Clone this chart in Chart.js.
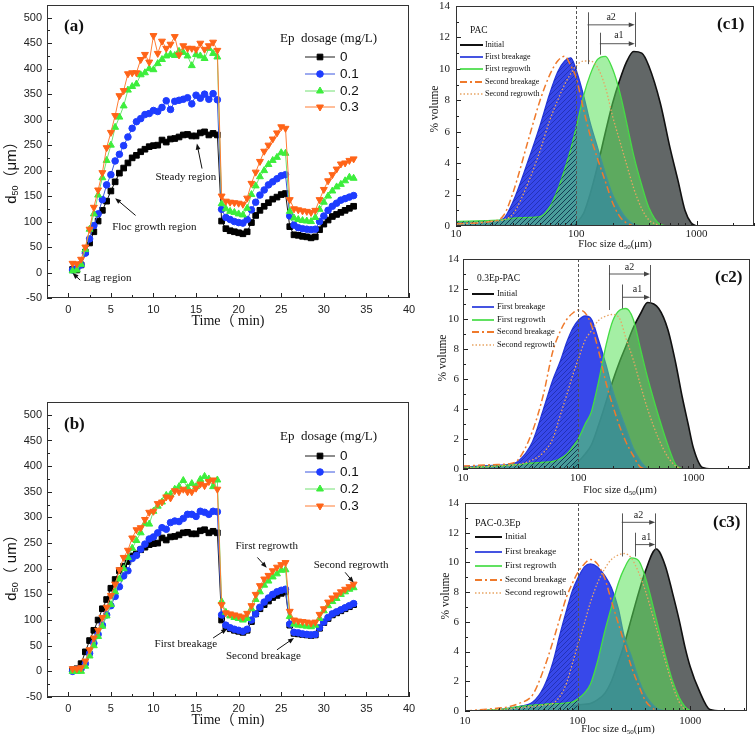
<!DOCTYPE html>
<html>
<head>
<meta charset="utf-8">
<script src="https://cdn.jsdelivr.net/npm/chart.js@4.4.1/dist/chart.umd.min.js"></script>
<style>
  body { margin: 0; background: #fff; width: 756px; height: 739px; overflow: hidden; position: relative; }
  canvas { position: absolute; }
</style>
</head>
<body>
<canvas id="chartA" width="420" height="335" style="left:0px;top:0px"></canvas>
<canvas id="chartB" width="420" height="399" style="left:0px;top:340px"></canvas>
<canvas id="chartC1" width="336" height="252" style="left:420px;top:0px"></canvas>
<canvas id="chartC2" width="336" height="246" style="left:420px;top:252px"></canvas>
<canvas id="chartC3" width="336" height="241" style="left:420px;top:498px"></canvas>
<script>
// ---- data: floc size d50 vs time (panels a, b) ----
const times = [0.5, 1, 1.5, 2, 2.5, 3, 3.5, 4, 4.5, 5, 5.5, 6, 6.5, 7, 7.5, 8, 8.5, 9, 9.5, 10,
  10.5, 11, 11.5, 12, 12.5, 13, 13.5, 14, 14.5, 15, 15.5, 16, 16.5, 17, 17.5,
  18, 18.5, 19, 19.5, 20, 20.5, 21, 21.5, 22, 22.5, 23, 23.5, 24, 24.5, 25, 25.5,
  26, 26.5, 27, 27.5, 28, 28.5, 29, 29.5, 30, 30.5, 31, 31.5, 32, 32.5, 33, 33.5];
const doseLabels = ['0', '0.1', '0.2', '0.3'];
const timeTicks = [0, 5, 10, 15, 20, 25, 30, 35, 40];
const d50Ticks = [-50, 0, 50, 100, 150, 200, 250, 300, 350, 400, 450, 500];

const aDose0 = [6, 5, 15, 40, 58, 80, 101, 122, 140, 160, 178, 195, 205, 215, 225, 230, 237, 242, 247, 249,
  250, 260, 256, 262, 263, 266, 270, 271, 268, 268, 274, 276, 270, 273, 270,
  101, 86, 82, 80, 78, 76, 80, 98, 112, 122, 130, 137, 144, 148, 153, 155,
  90, 74, 73, 71, 70, 68, 70, 84, 95, 103, 110, 114, 118, 122, 126, 130];
const aDose01 = [5, 8, 15, 38, 66, 92, 115, 143, 172, 192, 219, 232, 249, 266, 283, 296, 302, 310, 312, 318,
  316, 324, 337, 320, 336, 338, 340, 343, 331, 348, 342, 350, 340, 351, 339,
  124, 108, 104, 100, 98, 97, 104, 123, 138, 152, 162, 172, 178, 184, 190, 192,
  111, 93, 88, 86, 85, 84, 85, 100, 111, 122, 130, 136, 142, 145, 148, 151];
const aDose02 = [3, 5, 16, 45, 85, 115, 152, 186, 220, 250, 285, 305, 327, 358, 365, 370, 388, 392, 400, 398,
  410, 418, 425, 428, 426, 434, 432, 425, 406, 428, 425, 420, 440, 430, 423,
  135, 125, 120, 118, 115, 113, 126, 153, 170, 188, 200, 212, 220, 226, 235, 234,
  120, 107, 104, 102, 101, 100, 108, 124, 138, 150, 160, 168, 173, 180, 187, 185];
const aDose03 = [18, 17, 26, 50, 85, 128, 162, 196, 245, 275, 308, 347, 357, 390, 392, 392, 418, 428, 413, 465,
  430, 454, 440, 448, 463, 427, 445, 440, 440, 438, 450, 438, 445, 452, 436,
  150, 140, 138, 137, 136, 134, 146, 175, 197, 218, 238, 250, 262, 274, 286, 283,
  143, 125, 123, 121, 120, 118, 122, 143, 163, 180, 192, 203, 213, 215, 220, 223];

const bDose0 = [3, 5, 15, 38, 60, 80, 100, 122, 140, 162, 179, 196, 205, 214, 225, 229, 237, 242, 247, 249,
  250, 260, 256, 262, 263, 266, 270, 271, 268, 268, 274, 276, 270, 273, 270,
  100, 87, 83, 80, 78, 76, 80, 97, 112, 122, 130, 137, 144, 148, 152, 155,
  90, 74, 73, 72, 71, 70, 71, 84, 95, 103, 110, 114, 118, 122, 126, 130];
const bDose01 = [0, 3, 5, 15, 35, 55, 72, 90, 110, 128, 146, 165, 186, 196, 220, 226, 238, 248, 258, 262,
  270, 280, 277, 290, 293, 292, 298, 306, 306, 302, 312, 310, 306, 312, 311,
  110, 90, 85, 82, 80, 78, 82, 100, 112, 125, 135, 143, 150, 155, 158, 160,
  92, 76, 75, 73, 72, 71, 72, 85, 96, 105, 112, 116, 120, 124, 128, 132];
const bDose02 = [0, 0, 0, 10, 30, 50, 68, 88, 108, 130, 155, 180, 200, 222, 240, 255, 270, 288, 287, 312,
  322, 330, 343, 345, 355, 360, 372, 358, 366, 360, 374, 380, 375, 360, 373,
  136, 115, 108, 105, 103, 100, 103, 122, 140, 155, 168, 176, 184, 190, 197, 198,
  107, 92, 90, 89, 88, 87, 90, 103, 118, 128, 136, 142, 150, 155, 160, 163];
const bDose03 = [5, 5, 7, 20, 42, 65, 80, 105, 125, 148, 170, 198, 222, 236, 260, 276, 280, 296, 310, 312,
  327, 330, 340, 338, 352, 350, 355, 350, 350, 357, 365, 362, 370, 373, 355,
  130, 114, 112, 110, 108, 106, 113, 128, 150, 167, 180, 187, 196, 203, 208, 212,
  117, 100, 98, 97, 96, 94, 96, 111, 122, 135, 143, 149, 155, 160, 165, 170];

// ---- data: size distributions (panels c1-c3), % volume at each size ----
const sizes = [10, 20, 25, 30, 40, 50, 60, 70, 80, 90, 100, 115, 130, 150, 175, 200, 230, 260, 300, 350,
  400, 500, 600, 700, 800, 900, 1000, 1200, 1500, 2000, 3000];
const sizeTicks = [10, 100, 1000];
const volTicks = [0, 2, 4, 6, 8, 10, 12, 14];
const stageLabels = ['Initial', 'First breakage', 'First regrowth', 'Second breakage', 'Second regrowth'];

const c1Initial = [null, null, null, null, null, null, null, null, null, 0, 0.2, 0.8, 2.0, 3.8, 6.0, 7.8, 9.3, 10.4, 11.1, 11.0, 10.2, 7.8, 5.0, 2.9, 1.0, 0.2, 0];
const c1Break1 = [0.25, 0.3, 0.5, 1.6, 4.2, 6.4, 8.4, 9.8, 10.5, 10.7, 9.9, 8.3, 6.6, 5.0, 3.3, 2.0, 1.1, 0.5, 0.1, 0];
const c1Regrow1 = [0.3, 0.35, 0.4, 0.5, 0.55, 0.6, 1.2, 2.3, 3.6, 4.9, 6.3, 8.3, 9.6, 10.6, 10.8, 10.0, 8.5, 6.7, 4.5, 2.6, 1.2, 0.1, 0];
const c1Break2 = [0.15, 0.3, 0.7, 2.2, 5.5, 8.0, 9.6, 10.5, 10.8, 10.2, 9.4, 7.4, 5.8, 4.3, 2.8, 1.5, 0.6, 0.2, 0];
const c1Regrow2 = [0.1, 0.3, 0.4, 0.8, 2.8, 4.8, 6.7, 8.0, 9.0, 9.7, 10.2, 10.5, 10.5, 10.1, 8.8, 7.0, 5.4, 4.0, 2.4, 1.1, 0.4, 0];

const c2Initial = [null, null, null, null, null, null, null, null, null, 0.3, 0.5, 1.0, 1.6, 2.9, 4.5, 5.9, 7.2, 8.2, 9.4, 10.4, 11.1, 10.7, 9.3, 7.1, 4.8, 3.0, 1.4, 0.1, 0];
const c2Break1 = [0.15, 0.25, 0.3, 0.5, 1.8, 4.0, 5.9, 7.2, 8.5, 9.4, 9.9, 10.2, 10.0, 8.6, 6.9, 5.2, 3.8, 2.7, 1.4, 0.5, 0];
const c2Regrow1 = [0.1, 0.2, 0.25, 0.3, 0.4, 0.45, 0.5, 0.7, 1.0, 1.5, 2.0, 3.0, 3.8, 5.8, 8.3, 9.9, 10.6, 10.7, 10.0, 7.9, 6.1, 3.5, 1.6, 0.3, 0];
const c2Break2 = [0.2, 0.3, 0.35, 0.6, 2.5, 5.0, 7.8, 9.2, 10.0, 10.4, 10.6, 10.4, 9.6, 7.9, 5.7, 4.2, 2.8, 1.8, 0.9, 0.1, 0];
const c2Regrow2 = [0.1, 0.2, 0.25, 0.3, 0.6, 1.1, 2.0, 3.6, 5.0, 6.3, 7.3, 8.6, 9.2, 9.9, 10.2, 10.3, 10.0, 8.7, 7.3, 5.5, 4.0, 2.0, 0.8, 0.2, 0];

const c3Initial = [null, null, null, null, null, null, null, null, null, 0.3, 0.4, 0.45, 0.5, 0.75, 1.2, 2.0, 3.3, 4.5, 6.2, 8.0, 9.4, 10.9, 9.8, 7.9, 6.1, 4.3, 3.0, 1.4, 0.1, 0];
const c3Break1 = [0, 0.1, 0.2, 0.3, 0.6, 1.6, 3.2, 5.2, 6.8, 8.1, 8.9, 9.7, 9.9, 9.7, 9.1, 8.3, 6.9, 5.0, 3.7, 2.1, 1.1, 0.2, 0];
const c3Regrow1 = [0, 0.1, 0.2, 0.3, 0.4, 0.45, 0.5, 0.5, 0.55, 0.6, 0.8, 1.2, 1.8, 3.3, 5.4, 7.0, 8.6, 9.6, 10.3, 10.1, 9.0, 6.2, 3.8, 2.0, 0.9, 0.3, 0];
const c3Break2 = [0, 0.2, 0.3, 0.5, 1.1, 2.8, 4.6, 6.3, 7.7, 8.6, 9.3, 9.9, 10.2, 9.9, 8.9, 7.4, 5.9, 4.6, 3.0, 1.7, 0.7, 0];
const c3Regrow2 = [0, 0.1, 0.15, 0.2, 0.3, 0.4, 0.5, 1.0, 1.9, 3.2, 4.4, 5.9, 7.3, 8.6, 9.6, 10.2, 10.5, 10.6, 10.3, 9.3, 8.1, 5.6, 3.4, 1.7, 0.6, 0.1, 0];

// a1 / a2 markers: [start size, end size, arrow height]
const c1Shift = { a2: [124, 306, 12.8], a1: [157, 306, 11.6] };
const c2Shift = { a2: [185, 420, 13.0], a1: [241, 420, 11.45] };
const c3Shift = { a2: [247, 489, 12.7], a1: [324, 489, 11.2] };

// ---- styles ----
const SERIF = '"Liberation Serif", "Times New Roman", "Noto Sans CJK SC", serif';
const SANS = '"Liberation Sans", Arial, "Noto Sans CJK SC", sans-serif';
const doseStyle = [
  { color: '#000000', line: '#1a1a1a', pointStyle: 'rect', r: 4, rot: 0 },
  { color: '#1e3cff', line: '#3a56e0', pointStyle: 'circle', r: 3.3, rot: 0 },
  { color: '#3cee3c', line: '#72e072', pointStyle: 'triangle', r: 4, rot: 0 },
  { color: '#ff6418', line: '#ff7d35', pointStyle: 'triangle', r: 4, rot: 180 }
];
const stageStyle = [
  { line: '#111111', width: 1.6, dash: [], fill: 'rgba(85,90,90,0.92)' },
  { line: '#2436dc', width: 1.3, dash: [], fill: 'rgba(20,40,230,0.85)' },
  { line: '#45dc45', width: 1.3, dash: [], fill: 'rgba(90,225,90,0.55)' },
  { line: '#ef7a2c', width: 1.5, dash: [7, 3, 2, 3], fill: null },
  { line: '#e8a463', width: 1.3, dash: [1.5, 2], fill: null }
];

// ---- helpers ----
function drawRich(ctx, parts, x, y, align, rotate, color) {
  ctx.save();
  ctx.translate(x, y);
  if (rotate) ctx.rotate(-Math.PI / 2);
  ctx.fillStyle = color || '#111';
  ctx.textBaseline = 'middle';
  ctx.textAlign = 'left';
  let total = 0;
  parts.forEach(p => { ctx.font = p.f; p.w = ctx.measureText(p.t).width; total += p.w; });
  let cx = align === 'center' ? -total / 2 : 0;
  parts.forEach(p => { ctx.font = p.f; ctx.fillText(p.t, cx, p.dy || 0); cx += p.w; });
  ctx.restore();
}

function drawArrow(ctx, x1, y1, x2, y2, head, color, width) {
  const ang = Math.atan2(y2 - y1, x2 - x1);
  ctx.save();
  ctx.strokeStyle = color; ctx.fillStyle = color; ctx.lineWidth = width;
  ctx.beginPath();
  ctx.moveTo(x1, y1);
  ctx.lineTo(x2 - Math.cos(ang) * head * 0.8, y2 - Math.sin(ang) * head * 0.8);
  ctx.stroke();
  ctx.beginPath();
  ctx.moveTo(x2, y2);
  ctx.lineTo(x2 - head * Math.cos(ang) + head * 0.4 * Math.sin(ang), y2 - head * Math.sin(ang) - head * 0.4 * Math.cos(ang));
  ctx.lineTo(x2 - head * Math.cos(ang) - head * 0.4 * Math.sin(ang), y2 - head * Math.sin(ang) + head * 0.4 * Math.cos(ang));
  ctx.closePath();
  ctx.fill();
  ctx.restore();
}

function makeHatch(color) {
  const c = document.createElement('canvas');
  c.width = 5; c.height = 5;
  const g = c.getContext('2d');
  g.strokeStyle = color; g.lineWidth = 1;
  g.beginPath();
  g.moveTo(0, 5); g.lineTo(5, 0);
  g.moveTo(-1, 1); g.lineTo(1, -1);
  g.moveTo(4, 6); g.lineTo(6, 4);
  g.stroke();
  return g.createPattern(c, 'repeat');
}

function curve(arr) {
  return arr.map((v, i) => v === null ? null : { x: sizes[i], y: v }).filter(Boolean);
}

// plugin: frame, inward ticks, titles, legend, annotations
function decor(cfg) {
  return {
    id: 'decor',
    afterDatasetsDraw(chart) {
      const { ctx, chartArea: a, scales: { x, y } } = chart;
      const X = v => x.getPixelForValue(v);
      const Y = v => y.getPixelForValue(v);
      ctx.save();
      if (cfg.refX) {
        ctx.strokeStyle = '#555'; ctx.lineWidth = 1; ctx.setLineDash([3, 2]);
        const px = Math.round(X(cfg.refX)) + 0.5;
        ctx.beginPath(); ctx.moveTo(px, a.top); ctx.lineTo(px, a.bottom); ctx.stroke();
        ctx.setLineDash([]);
      }
      // ticks
      ctx.strokeStyle = '#222'; ctx.lineWidth = 1;
      ctx.beginPath();
      const t = cfg.ticks;
      t.xMajor.forEach(v => { const p = Math.round(X(v)) + 0.5; ctx.moveTo(p, a.bottom); ctx.lineTo(p, a.bottom - 5); });
      t.xMinor.forEach(v => { const p = Math.round(X(v)) + 0.5; ctx.moveTo(p, a.bottom); ctx.lineTo(p, a.bottom - 3); });
      t.yMajor.forEach(v => { const p = Math.round(Y(v)) + 0.5; ctx.moveTo(a.left, p); ctx.lineTo(a.left + 5, p); });
      t.yMinor.forEach(v => { const p = Math.round(Y(v)) + 0.5; ctx.moveTo(a.left, p); ctx.lineTo(a.left + 3, p); });
      ctx.stroke();
      ctx.strokeStyle = '#333';
      ctx.strokeRect(Math.round(a.left) + 0.5, Math.round(a.top) + 0.5, Math.round(a.right - a.left) - 1, Math.round(a.bottom - a.top) - 1);

      // shift markers (c panels)
      if (cfg.shift) {
        const s = cfg.shift;
        ctx.strokeStyle = '#444'; ctx.lineWidth = 0.9;
        ctx.beginPath();
        s.vlines.forEach(v => { const p = Math.round(X(v[0])) + 0.5; ctx.moveTo(p, Y(v[1])); ctx.lineTo(p, Y(v[2])); });
        ctx.stroke();
        s.arrows.forEach(r => drawArrow(ctx, X(r[0]), Y(r[2]), X(r[1]), Y(r[2]), 6, '#444', 0.9));
        s.labels.forEach(l => drawRich(ctx, [{ t: l[0], f: '10px ' + SERIF }], X(l[1]), Y(l[2]), 'center', false, '#222'));
      }
      // annotations with arrows (data coordinates)
      (cfg.notes || []).forEach(n => {
        drawRich(ctx, [{ t: n.t, f: n.f }], X(n.x), Y(n.y), 'center', false, '#111');
        if (n.arrow) drawArrow(ctx, X(n.arrow[0]), Y(n.arrow[1]), X(n.arrow[2]), Y(n.arrow[3]), 6, '#111', 1);
      });
      // titles (canvas pixels)
      (cfg.texts || []).forEach(tx => drawRich(ctx, tx.parts, tx.x, tx.y, tx.align, tx.rotate, '#111'));
      // legend
      if (cfg.legend) {
        const L = cfg.legend;
        drawRich(ctx, [{ t: L.title, f: L.titleFont }], L.titleX, L.titleY, 'left', false, '#111');
        L.labels.forEach((lab, i) => {
          const yy = L.rows[i];
          const st = L.styles[i];
          ctx.save();
          ctx.strokeStyle = st.line; ctx.lineWidth = st.width || 1;
          ctx.setLineDash(st.dash || []);
          ctx.beginPath(); ctx.moveTo(L.x1, yy); ctx.lineTo(L.x2, yy); ctx.stroke();
          ctx.restore();
          if (st.pointStyle) {
            ctx.save();
            ctx.fillStyle = st.color; ctx.strokeStyle = st.color; ctx.lineWidth = 1;
            Chart.helpers.drawPoint(ctx, { pointStyle: st.pointStyle, radius: st.r, rotation: st.rot, borderWidth: 1 }, (L.x1 + L.x2) / 2, yy);
            ctx.restore();
          }
          drawRich(ctx, [{ t: lab, f: L.font }], L.tx, yy, 'left', false, '#111');
        });
      }
      ctx.restore();
    }
  };
}

// ---- panels a & b ----
function timeChart(id, series, geo, extra) {
  const datasets = series.map((arr, i) => ({
    label: doseLabels[i],
    data: times.map((t, k) => ({ x: t, y: arr[k] })),
    borderColor: doseStyle[i].line,
    borderWidth: 1,
    backgroundColor: doseStyle[i].color,
    pointBackgroundColor: doseStyle[i].color,
    pointBorderColor: doseStyle[i].color,
    pointStyle: doseStyle[i].pointStyle,
    pointRadius: doseStyle[i].r,
    pointRotation: doseStyle[i].rot,
    pointBorderWidth: 1,
    tension: 0,
    order: 3 - i
  }));
  const minorY = [];
  d50Ticks.forEach(v => { if (v + 25 <= 525) minorY.push(v + 25); });
  const minorX = timeTicks.slice(0, -1).map(v => v + 2.5);
  return new Chart(document.getElementById(id), {
    type: 'line',
    data: { datasets },
    options: {
      animation: false, responsive: false, maintainAspectRatio: false,
      layout: { padding: { top: geo.top, right: geo.right, left: 0, bottom: 0 } },
      plugins: { legend: { display: false }, tooltip: { enabled: false } },
      scales: {
        x: {
          type: 'linear', min: -2.5, max: 40,
          afterBuildTicks: s => { s.ticks = timeTicks.map(v => ({ value: v })); },
          afterFit: s => { s.height = geo.xh; s.paddingLeft = 0; s.paddingRight = 0; },
          grid: { display: false, drawTicks: false }, border: { display: false },
          ticks: { padding: 5, color: '#222', font: { family: SANS, size: 11 }, maxRotation: 0, autoSkip: false, callback: v => String(v) }
        },
        y: {
          type: 'linear', min: -50, max: 525,
          afterBuildTicks: s => { s.ticks = d50Ticks.map(v => ({ value: v })); },
          afterFit: s => { s.width = 47; s.paddingTop = 0; s.paddingBottom = 0; },
          grid: { display: false, drawTicks: false }, border: { display: false },
          ticks: { padding: 5, color: '#222', font: { family: SANS, size: 11 }, autoSkip: false, callback: v => String(v) }
        }
      }
    },
    plugins: [decor(Object.assign({
      ticks: { xMajor: timeTicks, xMinor: minorX, yMajor: d50Ticks, yMinor: minorY }
    }, extra))]
  });
}

function d50Title(unit, cy) {
  return { parts: [{ t: 'd', f: '15px ' + SANS }, { t: '50', f: '9px ' + SANS, dy: 4 }, { t: unit, f: '15px ' + SANS }], x: 12, y: cy, align: 'center', rotate: true };
}
function timeTitle(cy) {
  return { parts: [{ t: 'Time（ min)', f: '14px ' + SERIF }], x: 228, y: cy, align: 'center', rotate: false };
}
function label(txt, x, y) {
  return { parts: [{ t: txt, f: 'bold 17px ' + SERIF }], x, y, align: 'left', rotate: false };
}
function doseLegend(titleY, rows) {
  return { title: 'Ep  dosage (mg/L)', titleFont: '13px ' + SERIF, titleX: 280, titleY,
    x1: 305, x2: 335, tx: 340, rows, font: '13.5px ' + SANS, labels: doseLabels,
    styles: doseStyle.map(s => ({ line: s.line, width: 1, color: s.color, pointStyle: s.pointStyle, r: s.r, rot: s.rot })) };
}
const noteFont = '11px ' + SERIF;

timeChart('chartA', [aDose0, aDose01, aDose02, aDose03], { top: 5, right: 11, xh: 37 }, {
  texts: [d50Title('（μm）', 169), timeTitle(321), label('(a)', 64, 27)],
  legend: doseLegend(39, [57, 74, 91, 107]),
  notes: [
    { t: 'Steady region', f: noteFont, x: 13.8, y: 187, arrow: [15.7, 204, 15.1, 253] },
    { t: 'Floc growth region', f: noteFont, x: 10.1, y: 89, arrow: [7.9, 112, 5.5, 146] },
    { t: 'Lag region', f: noteFont, x: 4.6, y: -11, arrow: [1.4, -15, 0.5, -1] }
  ]
});

timeChart('chartB', [bDose0, bDose01, bDose02, bDose03], { top: 62, right: 11, xh: 42 }, {
  texts: [d50Title('（ um）', 224), timeTitle(380), label('(b)', 64, 85)],
  legend: doseLegend(97, [116, 132, 149, 166]),
  notes: [
    { t: 'First regrowth', f: noteFont, x: 23.3, y: 244, arrow: [22.2, 222, 23.3, 202] },
    { t: 'Second regrowth', f: noteFont, x: 33.2, y: 208, arrow: [32.5, 193, 33.5, 173] },
    { t: 'First breakage', f: noteFont, x: 13.8, y: 54, arrow: [17.0, 65, 18.65, 83] },
    { t: 'Second breakage', f: noteFont, x: 22.9, y: 30, arrow: [24.5, 42, 26.5, 65] }
  ]
});

// ---- panels c1-c3 ----
function distChart(id, curves, geo, extra) {
  const datasets = curves.map((arr, i) => ({
    label: stageLabels[i],
    data: curve(arr),
    borderColor: stageStyle[i].line,
    borderWidth: stageStyle[i].width,
    borderDash: stageStyle[i].dash,
    backgroundColor: stageStyle[i].fill || 'transparent',
    fill: stageStyle[i].fill ? 'origin' : false,
    pointRadius: 0,
    tension: 0.4,
    cubicInterpolationMode: 'monotone',
    order: 10 - i * 2
  }));
  // hatching of the region below 100 um
  datasets.push({
    label: 'hatch-blue', data: curve(curves[1]).filter(p => p.x <= 100),
    borderWidth: 0, pointRadius: 0, fill: 'origin', backgroundColor: makeHatch('rgba(0,10,90,0.35)'),
    cubicInterpolationMode: 'monotone', order: 5
  });
  datasets.push({
    label: 'hatch-green', data: curve(curves[2]).filter(p => p.x <= 100),
    borderWidth: 0, pointRadius: 0, fill: 'origin', backgroundColor: makeHatch('rgba(10,60,50,0.7)'),
    cubicInterpolationMode: 'monotone', order: 5
  });
  const minorX = [];
  [10, 100, 1000].forEach(d => { for (let k = 2; k <= 9; k++) if (d * k <= geo.xmax) minorX.push(d * k); });
  const minorY = volTicks.slice(0, -1).map(v => v + 1);
  return new Chart(document.getElementById(id), {
    type: 'line',
    data: { datasets },
    options: {
      animation: false, responsive: false, maintainAspectRatio: false,
      layout: { padding: { top: geo.top, right: geo.right, left: 0, bottom: 0 } },
      plugins: { legend: { display: false }, tooltip: { enabled: false } },
      scales: {
        x: {
          type: 'logarithmic', min: 10, max: geo.xmax,
          afterBuildTicks: s => { s.ticks = sizeTicks.map(v => ({ value: v })); },
          afterFit: s => { s.height = geo.xh; s.paddingLeft = 0; s.paddingRight = 0; },
          grid: { display: false, drawTicks: false }, border: { display: false },
          ticks: { padding: geo.xpad, color: '#222', font: { family: SERIF, size: 11 }, maxRotation: 0, autoSkip: false, callback: v => String(v) }
        },
        y: {
          type: 'linear', min: 0, max: 14,
          afterBuildTicks: s => { s.ticks = volTicks.map(v => ({ value: v })); },
          afterFit: s => { s.width = geo.yw; s.paddingTop = 0; s.paddingBottom = 0; },
          grid: { display: false, drawTicks: false }, border: { display: false },
          ticks: { padding: geo.ypad, color: '#222', font: { family: SERIF, size: 11 }, autoSkip: false, callback: v => String(v) }
        }
      }
    },
    plugins: [decor(Object.assign({
      refX: 100,
      ticks: { xMajor: sizeTicks, xMinor: minorX, yMajor: volTicks, yMinor: minorY }
    }, extra))]
  });
}

function shiftMarks(s, tops) {
  return {
    vlines: [[s.a2[0], tops[0], tops[1]], [s.a1[0], tops[2], tops[3]], [s.a2[1], tops[0], tops[4]]],
    arrows: [s.a2, s.a1],
    labels: [['a2', Math.sqrt(s.a2[0] * s.a2[1]), s.a2[2] + 0.45], ['a1', Math.sqrt(s.a1[0] * s.a1[1]) * 1.03, s.a1[2] + 0.5]]
  };
}
function volTitle(x, y) {
  return { parts: [{ t: '% volume', f: '11.5px ' + SERIF }], x, y, align: 'center', rotate: true };
}
function sizeTitle(x, y) {
  return { parts: [{ t: 'Floc size d', f: '10.5px ' + SERIF }, { t: '50', f: '7px ' + SERIF, dy: 3 }, { t: '(μm)', f: '10.5px ' + SERIF }], x, y, align: 'center', rotate: false };
}
function stageLegend(title, tf, tx0, ty, x1, x2, tx, rows, font) {
  return { title, titleFont: tf, titleX: tx0, titleY: ty, x1, x2, tx, rows, font, labels: stageLabels,
    styles: stageStyle.map(s => ({ line: s.line, width: s.width + 0.4, dash: s.dash })) };
}

distChart('chartC1', [c1Initial, c1Break1, c1Regrow1, c1Break2, c1Regrow2],
  { top: 6, right: 2, xh: 26, yw: 36, xpad: 2, ypad: 6, xmax: 3000 }, {
  shift: shiftMarks(c1Shift, [13.6, 10.3, 12.3, 10.9, 11.4]),
  texts: [volTitle(15, 109), sizeTitle(195, 244), label('(c1)', 297, 25)],
  legend: stageLegend('PAC', '9.5px ' + SERIF, 50, 30, 40, 63, 65, [45, 57, 69, 82, 94], '8px ' + SERIF)
});

distChart('chartC2', [c2Initial, c2Break1, c2Regrow1, c2Break2, c2Regrow2],
  { top: 7, right: 6, xh: 29, yw: 43, xpad: 3, ypad: 4, xmax: 3100 }, {
  shift: shiftMarks(c2Shift, [13.6, 10.6, 12.3, 10.7, 11.0]),
  texts: [volTitle(23, 106), sizeTitle(200, 238), label('(c2)', 295, 26)],
  legend: stageLegend('0.3Ep-PAC', '9.5px ' + SERIF, 57, 26, 52, 74, 77, [42, 55, 68, 80, 93], '8.5px ' + SERIF)
});

distChart('chartC3', [c3Initial, c3Break1, c3Regrow1, c3Break2, c3Regrow2],
  { top: 5, right: 9, xh: 28, yw: 45, xpad: 4, ypad: 6, xmax: 3200 }, {
  shift: shiftMarks(c3Shift, [13.3, 10.4, 12.0, 10.4, 10.8]),
  texts: [volTitle(26, 98), sizeTitle(198, 231), label('(c3)', 293, 25)],
  legend: stageLegend('PAC-0.3Ep', '10px ' + SERIF, 55, 25, 55, 82, 85, [39, 54, 68, 82, 95], '9px ' + SERIF)
});
</script>
</body>
</html>
